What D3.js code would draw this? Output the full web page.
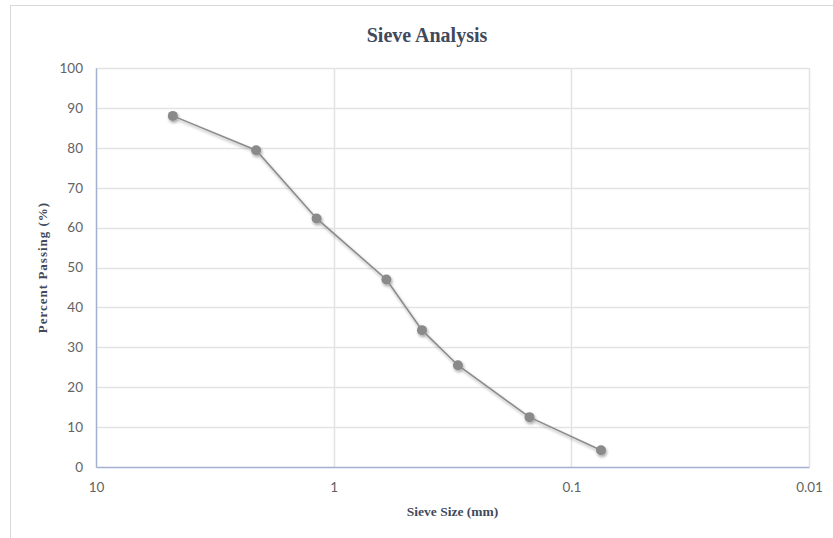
<!DOCTYPE html>
<html>
<head>
<meta charset="utf-8">
<script src="https://cdn.jsdelivr.net/npm/d3@7"></script>
<style>
  body { margin: 0; background: #fff; }
  .tick text { font-family: Lato, "Open Sans", sans-serif; font-size: 13.5px; fill: #636363; }
</style>
</head>
<body>
<div id="chart"></div>
<script>
// sieve data
var sieveSize = [4.75, 2.12, 1.18, 0.6, 0.425, 0.3, 0.15, 0.075];
var percentPassing = [88.0, 79.4, 62.3, 47.0, 34.3, 25.5, 12.5, 4.2];
var xTicks = [10, 1, 0.1, 0.01];
var xTickLabels = ["10", "1", "0.1", "0.01"];
var yTicks = [0, 10, 20, 30, 40, 50, 60, 70, 80, 90, 100];

(function() {
    var W = 833, H = 538;
    var margin = {top: 68, right: 24, bottom: 71, left: 96};
    var width = W - margin.left - margin.right;
    var height = H - margin.top - margin.bottom;

    var svg = d3.select("#chart").append("svg")
        .attr("width", W)
        .attr("height", H);

    // chart frame
    svg.append("rect")
        .attr("x", 10.5).attr("y", 5.5)
        .attr("width", W).attr("height", H)
        .attr("fill", "none")
        .attr("stroke", "#d9d9d9");

    var defs = svg.append("defs");
    var f = defs.append("filter").attr("id", "shadow")
        .attr("x", "-20%").attr("y", "-20%").attr("width", "140%").attr("height", "140%");
    f.append("feGaussianBlur").attr("in", "SourceAlpha").attr("stdDeviation", 1.5).attr("result", "b");
    f.append("feOffset").attr("in", "b").attr("dx", 1).attr("dy", 1.5).attr("result", "o");
    f.append("feComponentTransfer").attr("in", "o").attr("result", "s")
        .append("feFuncA").attr("type", "linear").attr("slope", 0.35);
    var m = f.append("feMerge");
    m.append("feMergeNode").attr("in", "s");
    m.append("feMergeNode").attr("in", "SourceGraphic");

    var g = svg.append("g")
        .attr("transform", "translate(" + margin.left + "," + margin.top + ")");

    // reversed log scale
    var xScale = d3.scaleLog().domain([10, 0.01]).range([0, width]);
    var yScale = d3.scaleLinear().domain([0, 100]).range([height, 0]);

    //gridlines
    g.append("g")
        .selectAll("line.h")
        .data(yTicks.slice(1))
        .enter().append("line")
        .attr("x1", 0).attr("x2", width)
        .attr("y1", function(d) { return Math.round(yScale(d)) + 0.5; })
        .attr("y2", function(d) { return Math.round(yScale(d)) + 0.5; })
        .attr("stroke", "#e3e3e3")
        .attr("stroke-width", 1.5);

    g.append("g")
        .selectAll("line.v")
        .data(xTicks.slice(1))
        .enter().append("line")
        .attr("x1", function(d) { return Math.round(xScale(d)) + 0.5; })
        .attr("x2", function(d) { return Math.round(xScale(d)) + 0.5; })
        .attr("y1", 0).attr("y2", height)
        .attr("stroke", "#e3e3e3")
        .attr("stroke-width", 1.5);

    //axes
    var xAxis = g.append("g")
        .attr("transform", "translate(0," + height + ")")
        .call(d3.axisBottom(xScale).tickValues(xTicks)
            .tickFormat(function(d, i) { return xTickLabels[i]; })
            .tickSize(0).tickPadding(15));
    xAxis.select(".domain").attr("stroke", "#a4b0cf").attr("stroke-width", 1.5);

    var yAxis = g.append("g")
        .call(d3.axisLeft(yScale).tickValues(yTicks).tickSize(0).tickPadding(13));
    yAxis.select(".domain").attr("stroke", "#a4b0cf").attr("stroke-width", 1.5);

    //line + markers
    var pts = sieveSize.map(function(s, i) { return [s, percentPassing[i]]; });
    var line = d3.line()
        .x(function(d) { return xScale(d[0]); })
        .y(function(d) { return yScale(d[1]); });

    var series = g.append("g").attr("filter", "url(#shadow)");
    series.append("path")
        .datum(pts)
        .attr("d", line)
        .attr("fill", "none")
        .attr("stroke", "#8c8c8c")
        .attr("stroke-width", 1.6);

    series.selectAll("circle")
        .data(pts)
        .enter().append("circle")
        .attr("cx", function(d) { return xScale(d[0]); })
        .attr("cy", function(d) { return yScale(d[1]); })
        .attr("r", 5)
        .attr("fill", "#8a8a8a");

    //title
    svg.append("text")
        .attr("x", 427).attr("y", 42)
        .attr("text-anchor", "middle")
        .attr("font-family", "'Liberation Serif', 'Times New Roman', serif")
        .attr("font-weight", "bold")
        .attr("font-size", "20px")
        .attr("fill", "#414a5c")
        .text("Sieve Analysis");

    //x-axis title
    svg.append("text")
        .attr("x", margin.left + width / 2).attr("y", 516)
        .attr("text-anchor", "middle")
        .attr("font-family", "'Liberation Serif', 'Times New Roman', serif")
        .attr("font-weight", "bold")
        .attr("font-size", "13.5px")
        .attr("fill", "#414a5c")
        .text("Sieve Size (mm)");

    //y-axis title
    svg.append("text")
        .attr("transform", "translate(47," + (margin.top + height / 2) + ") rotate(-90)")
        .attr("text-anchor", "middle")
        .attr("font-family", "'Liberation Serif', 'Times New Roman', serif")
        .attr("font-weight", "bold")
        .attr("font-size", "13px")
        .attr("letter-spacing", "1px")
        .attr("fill", "#414a5c")
        .text("Percent Passing (%)");
})();
</script>
</body>
</html>
